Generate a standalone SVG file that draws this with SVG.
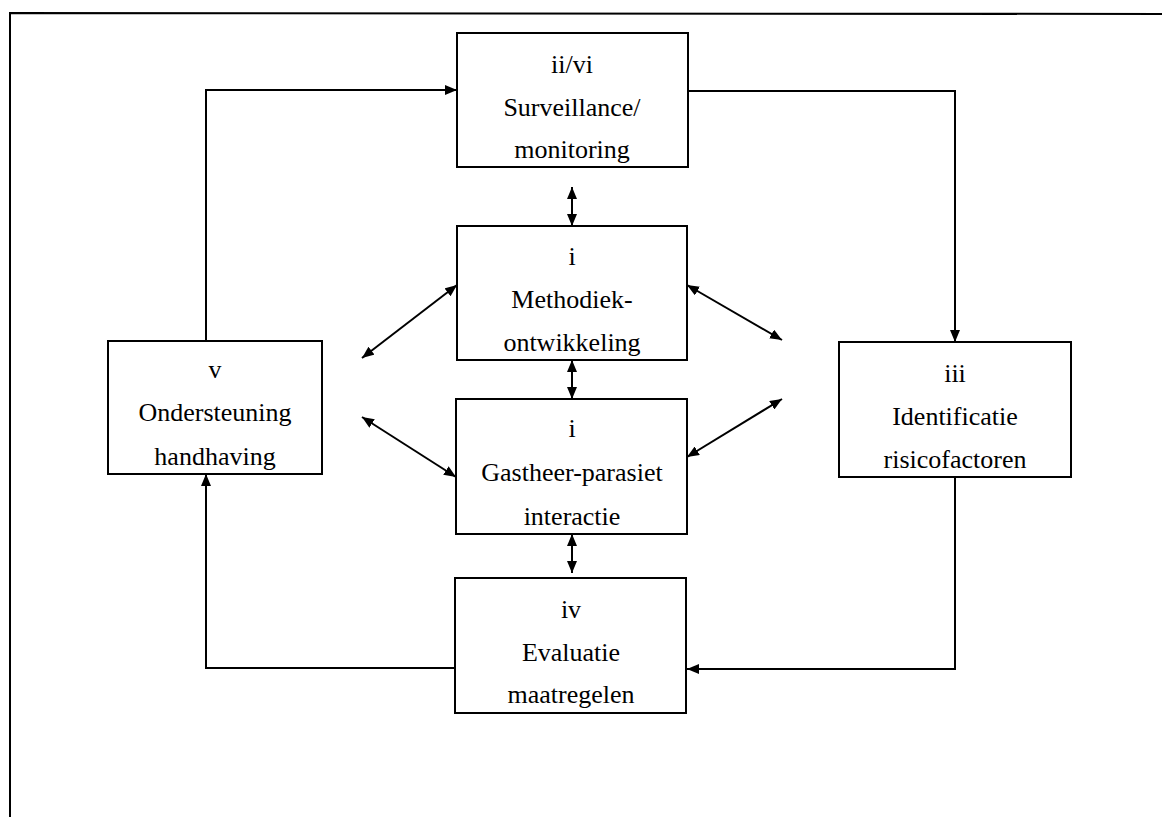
<svg xmlns="http://www.w3.org/2000/svg" width="1162" height="817" viewBox="0 0 1162 817">
<style>
.box{fill:#fff;stroke:#000;stroke-width:2}
.t{font-family:"Liberation Serif","Times New Roman",serif;font-size:26px;fill:#000;text-anchor:middle}
.c{fill:none;stroke:#000;stroke-width:2}
</style>
<defs>
<marker id="ah" viewBox="0 0 12 10" refX="12" refY="5" markerWidth="12" markerHeight="10" markerUnits="userSpaceOnUse" orient="auto-start-reverse">
<path d="M0,0 L12,5 L0,10 z" fill="#000"/>
</marker>
</defs>
<rect width="1162" height="817" fill="#fff"/>
<g id="frame">
<path class="c" d="M10,817 L10,13 L1162,14"/>
</g>
<g id="connectors">
<path class="c" d="M206,341 L206,90 L457,90" marker-end="url(#ah)"/>
<path class="c" d="M688,91 L955,91 L955,342" marker-end="url(#ah)"/>
<path class="c" d="M955,477 L955,669 L687,669" marker-end="url(#ah)"/>
<path class="c" d="M455,668 L206,668 L206,474" marker-end="url(#ah)"/>
<path class="c" d="M572,187 L572,226" marker-start="url(#ah)" marker-end="url(#ah)"/>
<path class="c" d="M572,360 L572,399" marker-start="url(#ah)" marker-end="url(#ah)"/>
<path class="c" d="M572,534 L572,573" marker-start="url(#ah)" marker-end="url(#ah)"/>
<path class="c" d="M457,285 L362,358" marker-start="url(#ah)" marker-end="url(#ah)"/>
<path class="c" d="M687,285 L782,340" marker-start="url(#ah)" marker-end="url(#ah)"/>
<path class="c" d="M362,417 L456,477" marker-start="url(#ah)" marker-end="url(#ah)"/>
<path class="c" d="M782,399 L687,457" marker-start="url(#ah)" marker-end="url(#ah)"/>
</g>
<g id="node-surveillance">
<rect class="box" x="457" y="33" width="231" height="134"/>
<text class="t" x="572" y="73">ii/vi</text>
<text class="t" x="572" y="116">Surveillance/</text>
<text class="t" x="572" y="158">monitoring</text>
</g>
<g id="node-methodiek">
<rect class="box" x="457" y="226" width="230" height="134"/>
<text class="t" x="572" y="265">i</text>
<text class="t" x="572" y="308">Methodiek-</text>
<text class="t" x="572" y="351">ontwikkeling</text>
</g>
<g id="node-gastheer">
<rect class="box" x="456" y="399" width="231" height="135"/>
<text class="t" x="572" y="437">i</text>
<text class="t" x="572" y="481">Gastheer-parasiet</text>
<text class="t" x="572" y="525">interactie</text>
</g>
<g id="node-evaluatie">
<rect class="box" x="455" y="578" width="231" height="135"/>
<text class="t" x="571" y="618">iv</text>
<text class="t" x="571" y="661">Evaluatie</text>
<text class="t" x="571" y="703">maatregelen</text>
</g>
<g id="node-ondersteuning">
<rect class="box" x="108" y="341" width="214" height="133"/>
<text class="t" x="215" y="378">v</text>
<text class="t" x="215" y="421">Ondersteuning</text>
<text class="t" x="215" y="465">handhaving</text>
</g>
<g id="node-identificatie">
<rect class="box" x="839" y="342" width="232" height="135"/>
<text class="t" x="955" y="382">iii</text>
<text class="t" x="955" y="425">Identificatie</text>
<text class="t" x="955" y="468">risicofactoren</text>
</g>
</svg>
